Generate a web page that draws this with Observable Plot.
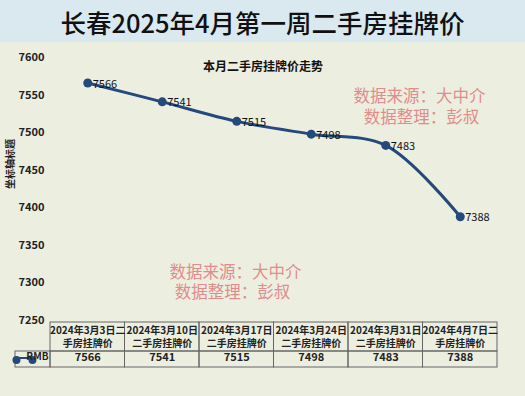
<!DOCTYPE html>
<html><head><meta charset="utf-8">
<script src="https://cdn.jsdelivr.net/npm/d3@7"></script>
<script src="https://cdn.jsdelivr.net/npm/@observablehq/plot@0.6"></script>
<style>
html,body{margin:0;padding:0;background:#eceee0;}
#wrap{width:525px;height:396px;overflow:hidden;position:relative;background:#eceee0;}
#title{height:42px;background:#d9e9ef;font-family:"Noto Sans CJK SC",sans-serif;font-weight:500;font-size:25.5px;color:#111;text-align:center;line-height:44px;}
svg{display:block;}
</style></head><body>
<div id="wrap"><div id="title">长春2025年4月第一周二手房挂牌价</div><div id="chart"></div></div>
<script>
const headers = ["2024年3月3日二\n手房挂牌价","2024年3月10日\n二手房挂牌价","2024年3月17日\n二手房挂牌价","2024年3月24日\n二手房挂牌价","2024年3月31日\n二手房挂牌价","2024年4月7日二\n手房挂牌价"];
const values = [7566, 7541, 7515, 7498, 7483, 7388];
const yTicks = [7250, 7300, 7350, 7400, 7450, 7500, 7550, 7600];
const seriesName = "RMB";
const chartTitle = "本月二手房挂牌价走势";
const yTitle = "坐标轴标题";
const watermark = ["数据来源：大中介", "数据整理：彭叔"];

const rows = values.map((v, i) => ({i, v, h: headers[i]}));
const blue = "#24497d";
const font = "'Noto Sans CJK SC', sans-serif";
const wm = {fill: "#e08c8c", fontSize: 16.5, fontFamily: font, frameAnchor: "top-left", textAnchor: "middle"};

const plot = Plot.plot({
  width: 525, height: 354,
  marginLeft: 50, marginRight: 28, marginTop: 15, marginBottom: 76,
  style: {background: "#eceee0", fontFamily: font, overflow: "visible"},
  x: {type: "linear", domain: [-0.5, 5.5], axis: null},
  y: {domain: [7250, 7600]},
  marks: [
    Plot.axisY({ticks: yTicks, tickFormat: d => String(d), tickSize: 0, tickPadding: 6, fontSize: 11, fontWeight: "bold", fill: "#222",
      label: null}),
    Plot.text([yTitle], {text: d => d, frameAnchor: "left", dx: -40, rotate: -90, fontSize: 10, fontWeight: "bold", fill: "#222"}),
    Plot.text([chartTitle], {text: d => d, frameAnchor: "top", dx: -11, dy: 5, fontSize: 12, fontWeight: "bold", fill: "#111"}),
    Plot.text([watermark[0]], {...wm, text: d => d, dx: 369, dy: 33}),
    Plot.text([watermark[1]], {...wm, text: d => d, dx: 371, dy: 54}),
    Plot.text([watermark[0]], {...wm, text: d => d, dx: 185, dy: 209}),
    Plot.text([watermark[1]], {...wm, text: d => d, dx: 182, dy: 229}),
    Plot.line(rows, {x: "i", y: "v", curve: "catmull-rom", stroke: blue, strokeWidth: 3}),
    Plot.dot(rows, {x: "i", y: "v", r: 4.5, fill: blue}),
    Plot.text(rows, {x: "i", y: "v", text: d => String(d.v), dx: 5, dy: 1, textAnchor: "start", fontSize: 11, fill: "#111"}),
    // table header cells
    Plot.rect(rows, {x1: d => d.i - 0.5, x2: d => d.i + 0.5, insetTop: 265, insetBottom: -31, fill: "none", stroke: "#666", strokeWidth: 1}),
    // table data cells
    Plot.rect(rows, {x1: d => d.i - 0.5, x2: d => d.i + 0.5, insetTop: 294, insetBottom: -47, fill: "none", stroke: "#666", strokeWidth: 1}),
    // legend cell
    Plot.rect([seriesName], {x1: -0.5, x2: -0.5, insetLeft: -35, insetTop: 294, insetBottom: -47, fill: "none", stroke: "#666", strokeWidth: 1}),
    Plot.rect([seriesName], {x1: -0.5, x2: -0.5, insetLeft: -35, insetRight: 16, insetTop: 300, insetBottom: -39, fill: blue}),
    Plot.dot([seriesName], {x: -0.5, dx: -34, frameAnchor: "bottom", dy: 39.5, r: 4, fill: blue}),
    Plot.dot([seriesName], {x: -0.5, dx: -18, frameAnchor: "bottom", dy: 39.5, r: 4, fill: blue}),
    Plot.text([seriesName], {x: -0.5, text: d => d, dx: -2, frameAnchor: "bottom", dy: 39.5, textAnchor: "end", fontSize: 10, fontWeight: "bold", fill: "#222"}),
    Plot.text(rows, {x: "i", text: "h", frameAnchor: "bottom", dy: 16, lineAnchor: "middle", fontSize: 10, fontWeight: "bold", lineHeight: 1.25, fill: "#222"}),
    Plot.text(rows, {x: "i", text: d => String(d.v), frameAnchor: "bottom", dy: 40, fontSize: 11, fontWeight: "bold", fill: "#222"})
  ]
});
document.getElementById("chart").append(plot);
</script></body></html>
